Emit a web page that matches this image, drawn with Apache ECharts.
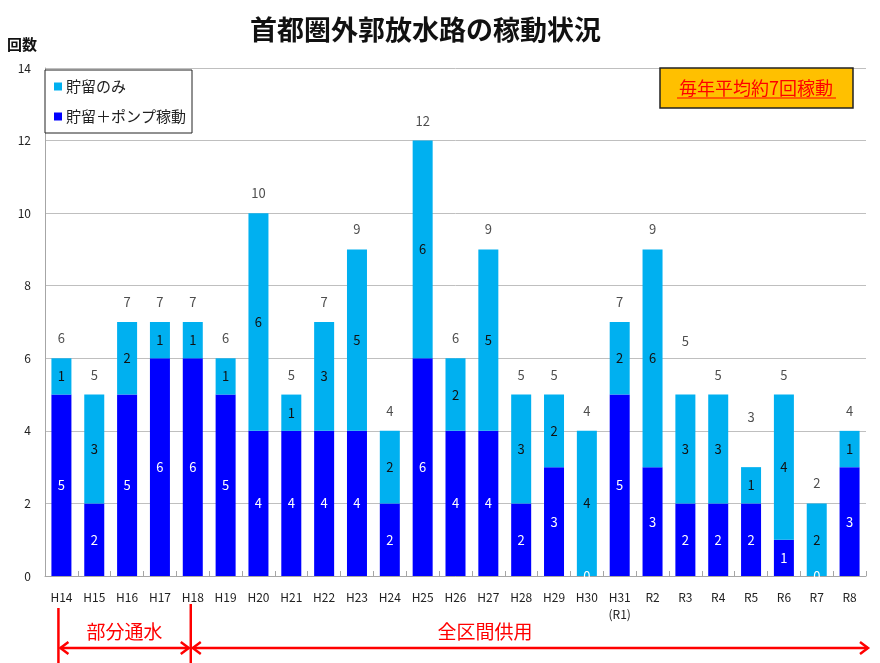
<!DOCTYPE html>
<html>
<head>
<meta charset="utf-8">
<script src="https://cdn.jsdelivr.net/npm/echarts@6/dist/echarts.min.js"></script>
<style>
  html, body { margin: 0; padding: 0; background: #fff; }
  #chart { width: 880px; height: 663px; }
</style>
</head>
<body>
<div id="chart"></div>
<script>
// 年度
const categories = ['H14', 'H15', 'H16', 'H17', 'H18', 'H19', 'H20', 'H21', 'H22', 'H23', 'H24', 'H25', 'H26',
  'H27', 'H28', 'H29', 'H30', 'H31\n(R1)', 'R2', 'R3', 'R4', 'R5', 'R6', 'R7', 'R8']
// 貯留＋ポンプ稼動
const pumpCounts = [5, 2, 5, 6, 6, 5, 4, 4, 4, 4, 2, 6, 4, 4, 2, 3, 0, 5, 3, 2, 2, 2, 1, 0, 3]
// 貯留のみ
const storageCounts = [1, 3, 2, 1, 1, 1, 6, 1, 3, 5, 2, 6, 2, 5, 3, 2, 4, 2, 6, 3, 3, 1, 4, 2, 1]
// 合計
const totals = [6, 5, 7, 7, 7, 6, 10, 5, 7, 9, 4, 12, 6, 9, 5, 5, 4, 7, 9, 5, 5, 3, 5, 2, 4]
const yTicks = { min: 0, max: 14, interval: 2 }

const FONT = '"Noto Sans CJK JP", "Noto Sans", sans-serif'
const RED = '#ff0000'

var myChart = echarts.init(document.getElementById('chart'))

// R3・R5 の合計ラベルは少し高い位置にある
const liftedLabels = { 19: -34, 21: -30 }

const totalData = totals.map(function (v, i) {
  const item = { value: v }
  if (liftedLabels[i]) item.label = { offset: [0, liftedLabels[i]] }
  return item
})

var option = {
  backgroundColor: '#fff',
  animation: false,
  textStyle: { fontFamily: FONT },
  title: {
    text: '首都圏外郭放水路の稼動状況',
    left: 245,
    top: 11,
    textStyle: { fontSize: 27, fontWeight: 'bold', color: '#111', fontFamily: FONT },
  },
  legend: {
    data: ['貯留のみ', '貯留＋ポンプ稼動'],
    orient: 'vertical',
    left: 45,
    top: 70,
    padding: [9, 6, 9, 9],
    itemGap: 15,
    itemWidth: 8,
    itemHeight: 8,
    icon: 'rect',
    backgroundColor: '#fff',
    borderColor: '#222',
    borderWidth: 1,
    textStyle: { fontSize: 15, color: '#222', padding: [0, 0, 0, -1] },
  },
  grid: { left: 45, right: 14, top: 68, bottom: 87 },
  xAxis: {
    type: 'category',
    data: categories,
    axisLine: { lineStyle: { color: '#a6a6a6' } },
    axisTick: { show: true, inside: true, length: 5, lineStyle: { color: '#a6a6a6' } },
    axisLabel: { color: '#222', fontSize: 12, margin: 13, lineHeight: 17, interval: 0 },
  },
  yAxis: {
    type: 'value',
    name: '回数',
    nameLocation: 'end',
    nameGap: 16,
    nameTextStyle: { fontSize: 15, fontWeight: 'bold', color: '#111', align: 'right', padding: [0, 8, 0, 0] },
    min: yTicks.min,
    max: yTicks.max,
    interval: yTicks.interval,
    axisLine: { show: true, lineStyle: { color: '#a6a6a6' } },
    axisTick: { show: false },
    axisLabel: { color: '#222', fontSize: 12, margin: 14 },
    splitLine: { lineStyle: { color: '#bfbfbf' } },
  },
  series: [
    {
      name: '貯留＋ポンプ稼動',
      type: 'bar',
      stack: 'total',
      barWidth: 20,
      data: pumpCounts,
      itemStyle: { color: '#0000ff' },
      label: { show: true, position: 'inside', color: '#fff', fontSize: 13 },
    },
    {
      name: '貯留のみ',
      type: 'bar',
      stack: 'total',
      barWidth: 20,
      data: storageCounts,
      itemStyle: { color: '#00b0f0' },
      label: { show: true, position: 'inside', color: '#111', fontSize: 13 },
    },
    {
      // 合計ラベル
      name: '合計',
      type: 'scatter',
      data: totalData,
      symbol: 'rect',
      symbolSize: 1,
      silent: true,
      itemStyle: { color: 'rgba(0,0,0,0)' },
      label: { show: true, position: 'top', distance: 13, color: '#222', fontSize: 13 },
      z: 5,
    },
  ],
}

myChart.setOption(option)

// 下部の注記（期間矢印）
function drawNotes() {
  const x14 = myChart.convertToPixel({ xAxisIndex: 0 }, 0) - 3
  const x18 = myChart.convertToPixel({ xAxisIndex: 0 }, 4) - 2
  const xEnd = 868
  const ay = 648
  const line = { stroke: RED, lineWidth: 2.5 }
  myChart.setOption({
    graphic: [
      // 毎年平均
      { type: 'rect', shape: { x: 660, y: 68, width: 193, height: 40 }, style: { fill: '#ffc000', stroke: '#222', lineWidth: 1.5 }, z: 10 },
      { type: 'text', x: 756, y: 88, style: { text: '毎年平均約7回稼動', fill: RED, fontSize: 18, fontFamily: FONT, align: 'center', verticalAlign: 'middle' }, z: 11 },
      { type: 'line', shape: { x1: 677, y1: 98, x2: 836, y2: 98 }, style: { stroke: RED, lineWidth: 1 }, z: 11 },
      // 区切り縦線
      { type: 'line', shape: { x1: x14, y1: 608, x2: x14, y2: 663 }, style: line },
      { type: 'line', shape: { x1: x18, y1: 604, x2: x18, y2: 663 }, style: line },
      // 部分通水
      { type: 'line', shape: { x1: x14 + 2, y1: ay, x2: x18 - 2, y2: ay }, style: line },
      { type: 'polyline', shape: { points: [[x14 + 10, ay - 6], [x14 + 2, ay], [x14 + 10, ay + 6]] }, style: Object.assign({ fill: 'none' }, line) },
      { type: 'polyline', shape: { points: [[x18 - 10, ay - 6], [x18 - 2, ay], [x18 - 10, ay + 6]] }, style: Object.assign({ fill: 'none' }, line) },
      { type: 'text', x: (x14 + x18) / 2, y: 632, style: { text: '部分通水', fill: RED, fontSize: 19, fontFamily: FONT, align: 'center', verticalAlign: 'middle' } },
      // 全区間供用
      { type: 'line', shape: { x1: x18 + 2, y1: ay, x2: xEnd, y2: ay }, style: line },
      { type: 'polyline', shape: { points: [[x18 + 10, ay - 6], [x18 + 2, ay], [x18 + 10, ay + 6]] }, style: Object.assign({ fill: 'none' }, line) },
      { type: 'polyline', shape: { points: [[xEnd - 8, ay - 6], [xEnd, ay], [xEnd - 8, ay + 6]] }, style: Object.assign({ fill: 'none' }, line) },
      { type: 'text', x: 485, y: 632, style: { text: '全区間供用', fill: RED, fontSize: 19, fontFamily: FONT, align: 'center', verticalAlign: 'middle' } },
    ],
  })
}

drawNotes()
</script>
</body>
</html>
